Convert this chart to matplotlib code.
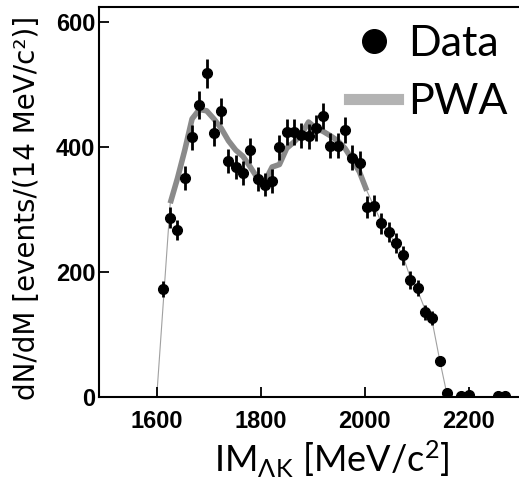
import numpy as np
import matplotlib
matplotlib.use("Agg")
import matplotlib.pyplot as plt
from matplotlib.lines import Line2D

plt.rcParams['mathtext.fontset'] = 'custom'
plt.rcParams['mathtext.rm'] = 'Lato'
plt.rcParams['mathtext.it'] = 'Lato:italic'

# ==========================[Data]=============================
mass = [1612, 1626, 1640, 1654, 1668, 1682, 1696, 1710, 1724, 1738, 1752, 1766,
        1780, 1794, 1808, 1822, 1836, 1850, 1864, 1878, 1892, 1906, 1920, 1934,
        1948, 1962, 1976, 1990, 2004, 2018, 2032, 2046, 2060, 2074, 2088, 2102,
        2116, 2130, 2144, 2158, 2186, 2200, 2256, 2270]
counts = [173, 287, 268, 351, 416, 467, 518, 423, 458, 378, 368, 358,
          395, 349, 340, 346, 400, 424, 424, 419, 417, 430, 450, 402,
          402, 427, 383, 375, 304, 306, 278, 264, 247, 227, 187, 174,
          136, 126, 58, 7, 2, 3, 1, 2]
errors = [13, 17, 16, 19, 20, 22, 23, 21, 21, 19, 19, 19,
          20, 19, 18, 19, 20, 21, 21, 20, 20, 21, 21, 20,
          20, 21, 20, 19, 17, 17, 17, 16, 16, 15, 14, 13,
          12, 11, 8, 3, 1, 2, 1, 1]

# PWA curve
pwa_mass = [1600, 1626, 1640, 1654, 1668, 1682, 1696, 1710, 1724, 1738, 1752,
            1766, 1780, 1794, 1808, 1822, 1836, 1850, 1864, 1878, 1892, 1906,
            1920, 1934, 1948, 1962, 1976, 1990, 2004, 2018, 2032, 2046, 2060,
            2074, 2088, 2102, 2116, 2130, 2144, 2158, 2172]
pwa_val = [0, 310, 350, 395, 445, 460, 458, 445, 430, 410, 395,
           385, 368, 350, 345, 368, 372, 398, 408, 420, 440, 430,
           425, 418, 410, 398, 380, 360, 330, 305, 280, 262, 245,
           225, 190, 170, 140, 120, 60, 5, 0]
band_lo, band_hi = 1626, 2010

x_ticks = [1600, 1800, 2000, 2200]
y_ticks = [0, 200, 400, 600]

# ==========================[Plot]=============================
fig = plt.figure(figsize=(5.19, 4.87), dpi=100)
ax = fig.add_axes([0.1917, 0.1848, 0.8116, 0.8008])

pm = np.array(pwa_mass)
pv = np.array(pwa_val)
sel = (pm >= band_lo) & (pm <= band_hi)

ax.plot(pm, pv, color='#a0a0a0', lw=0.8, zorder=1)
ax.plot(pm[sel], pv[sel], color='#8a8a8a', lw=4, zorder=2, solid_capstyle='butt')

ax.errorbar(mass, counts, yerr=errors, fmt='o', color='black', ms=7,
            elinewidth=2, capsize=0, zorder=3)

ax.set_xlim(1490, 2300)
ax.set_ylim(0, 624)
ax.set_xticks(x_ticks)
ax.set_yticks(y_ticks)
for s in ax.spines.values():
    s.set_linewidth(1.5)
ax.tick_params(direction='in', length=7, width=1.3, labelsize=17)
ax.tick_params(axis='x', pad=9)
ax.tick_params(axis='y', pad=3)
for lab in ax.get_xticklabels() + ax.get_yticklabels():
    lab.set_fontweight('bold')
    lab.set_family('Liberation Sans')

fig.text(27 / 519, 1 - 207.5 / 487, 'dN/dM [events/(14 MeV/c²)]', rotation=90,
         ha='center', va='center', fontsize=20, family='DejaVu Sans')
fig.text(332 / 519, 1 - 472 / 487, r'IM$_{\mathrm{\Lambda K}}$ [MeV/c$^{2}$]',
         ha='center', va='baseline', fontsize=26, family='Lato')

handles = [Line2D([], [], marker='o', ls='none', color='black', ms=17),
           Line2D([], [], color='#b3b3b3', lw=8)]
ax.legend(handles, ['Data', 'PWA'], loc='upper right', bbox_to_anchor=(1.04, 1.03),
          frameon=False, prop={'family': 'Lato', 'size': 31},
          handlelength=1.15, handletextpad=0.22, labelspacing=0.45, borderpad=0.2)

plt.savefig('out.png', dpi=100)
